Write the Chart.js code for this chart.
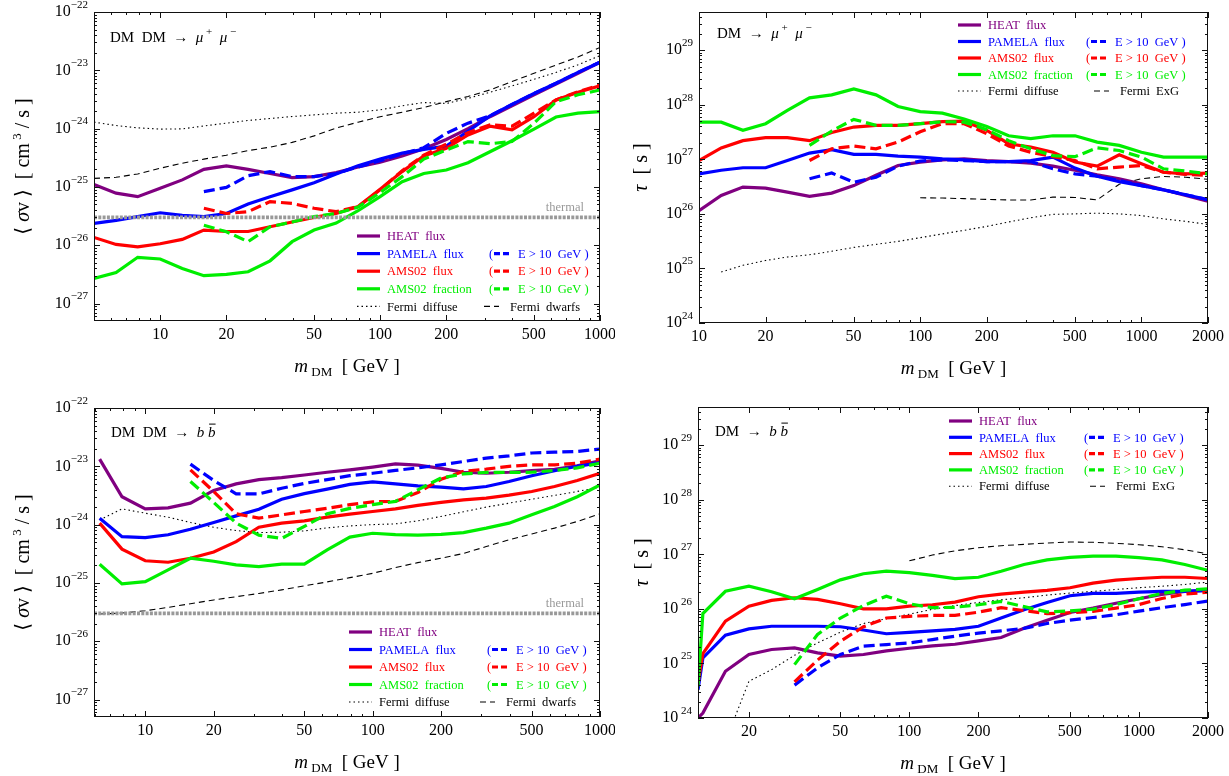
<!DOCTYPE html>
<html>
<head>
<meta charset="utf-8">
<script src="https://cdn.jsdelivr.net/npm/chart.js@4.4.1/dist/chart.umd.min.js"></script>
<style>
  body { margin: 0; background: #fff; }
  #wrap { position: relative; width: 1229px; height: 776px; }
  canvas { position: absolute; }
</style>
</head>
<body>
<div id="wrap">
  <canvas id="c1" width="615" height="390" style="left:0;top:0"></canvas>
  <canvas id="c2" width="614" height="390" style="left:615px;top:0"></canvas>
  <canvas id="c3" width="615" height="386" style="left:0;top:390px"></canvas>
  <canvas id="c4" width="614" height="386" style="left:615px;top:390px"></canvas>
</div>
<script>
// ---- annihilation DM DM -> mu+ mu-  (<sigma v> in cm^3/s)
const massAnnMu = [5, 6.3, 7.9, 10, 12.6, 15.8, 20, 25.1, 31.6, 39.8, 50.1, 63.1, 79.4, 100, 126, 158, 200, 251, 316, 398, 501, 631, 794, 1000];
const heatAnnMu = [1.1e-25, 7.8e-26, 6.8e-26, 9.5e-26, 1.32e-25, 2.0e-25, 2.3e-25, 2.0e-25, 1.7e-25, 1.44e-25, 1.5e-25, 1.76e-25, 2.2e-25, 2.65e-25, 3.4e-25, 4.5e-25, 6.5e-25, 1.0e-24, 1.6e-24, 2.45e-24, 3.8e-24, 5.8e-24, 8.9e-24, 1.38e-23];
const pamAnnMu = [2.37e-26, 2.67e-26, 3.1e-26, 3.6e-26, 3.25e-26, 3.1e-26, 3.5e-26, 5.1e-26, 6.8e-26, 8.9e-26, 1.18e-25, 1.67e-25, 2.3e-25, 3.0e-25, 3.8e-25, 4.4e-25, 5.0e-25, 9.0e-25, 1.65e-24, 2.6e-24, 4.0e-24, 6.0e-24, 9.2e-24, 1.38e-23];
const pamAnnMuE10 = [null, null, null, null, null, 8.3e-26, 9.8e-26, 1.56e-25, 1.83e-25, 1.5e-25, 1.5e-25, 1.7e-25, 2.2e-25, 2.8e-25, 3.7e-25, 4.7e-25, 8.3e-25, 1.24e-24, 1.65e-24, 2.6e-24, 4.0e-24, 6.0e-24, 9.2e-24, 1.38e-23];
const amsAnnMu = [1.36e-26, 1.03e-26, 9.4e-27, 1.06e-26, 1.26e-26, 1.82e-26, 1.72e-26, 1.72e-26, 2.07e-26, 2.5e-26, 3.0e-26, 3.5e-26, 4.6e-26, 9.1e-26, 1.83e-25, 3.4e-25, 4.6e-25, 7.8e-25, 1.1e-24, 9.5e-25, 1.6e-24, 3.1e-24, 4.2e-24, 5.4e-24];
const amsAnnMuE10 = [null, null, null, null, null, 4.3e-26, 3.5e-26, 3.76e-26, 5.6e-26, 5.2e-26, 4.3e-26, 3.76e-26, 4.6e-26, 8.9e-26, 1.9e-25, 3.5e-25, 5.4e-25, 8.5e-25, 1.16e-24, 1.1e-24, 1.84e-24, 3.1e-24, 4.3e-24, 5.6e-24];
const fracAnnMu = [2.7e-27, 3.4e-27, 6.2e-27, 5.8e-27, 4.0e-27, 3.0e-27, 3.15e-27, 3.5e-27, 5.4e-27, 1.15e-26, 1.82e-26, 2.4e-26, 3.9e-26, 6.8e-26, 1.23e-25, 1.7e-25, 1.95e-25, 2.6e-25, 4.0e-25, 6.2e-25, 9.8e-25, 1.58e-24, 1.84e-24, 1.96e-24];
const fracAnnMuE10 = [null, null, null, null, null, 2.2e-26, 1.7e-26, 1.15e-26, 2.07e-26, 2.5e-26, 3.1e-26, 3.5e-26, 4.5e-26, 8.0e-26, 1.5e-25, 3.0e-25, 4.3e-25, 6.0e-25, 5.5e-25, 6.0e-25, 1.24e-24, 2.9e-24, 3.8e-24, 4.6e-24];
const fermiDiffAnnMu = [1.29e-24, 1.13e-24, 1.03e-24, 9.8e-25, 9.9e-25, 1.11e-24, 1.24e-24, 1.38e-24, 1.49e-24, 1.61e-24, 1.72e-24, 1.84e-24, 1.91e-24, 2.1e-24, 2.46e-24, 2.8e-24, 2.7e-24, 3.3e-24, 4.2e-24, 5.4e-24, 7.0e-24, 9.2e-24, 1.24e-23, 1.78e-23];
const fermiDwarfAnnMu = [1.4e-25, 1.46e-25, 1.67e-25, 2.09e-25, 2.55e-25, 3.0e-25, 3.5e-25, 4.2e-25, 4.8e-25, 5.8e-25, 7.5e-25, 1.02e-24, 1.29e-24, 1.6e-24, 1.91e-24, 2.3e-24, 2.9e-24, 3.55e-24, 4.6e-24, 6.4e-24, 8.9e-24, 1.23e-23, 1.69e-23, 2.47e-23];

// ---- decay DM -> mu+ mu-  (tau in s)
const massDecMu = [10, 12.6, 15.8, 20, 25.1, 31.6, 39.8, 50.1, 63.1, 79.4, 100, 126, 158, 200, 251, 316, 398, 501, 631, 794, 1000, 1259, 1585, 1995];
const heatDecMu = [1.15e26, 2.18e26, 3.1e26, 2.96e26, 2.5e26, 2.1e26, 2.4e26, 3.3e26, 5.1e26, 7.7e26, 8.9e26, 9.8e26, 1.02e27, 9.5e26, 9.1e26, 8.5e26, 7.5e26, 6.3e26, 5.2e26, 4.4e26, 3.55e26, 2.76e26, 2.18e26, 1.71e26];
const pamDecMu = [5.4e26, 6.3e26, 7.0e26, 7.0e26, 9.5e26, 1.3e27, 1.5e27, 1.23e27, 1.23e27, 1.14e27, 1.1e27, 1.02e27, 9.8e26, 9.1e26, 9.1e26, 9.5e26, 1.1e27, 6.9e26, 4.9e26, 3.9e26, 3.3e26, 2.76e26, 2.24e26, 1.82e26];
const pamDecMuE10 = [null, null, null, null, null, 4.4e26, 5.6e26, 3.8e26, 4.7e26, 7.5e26, 9.3e26, 9.8e26, 9.5e26, 9.1e26, 9.1e26, 9.1e26, 6.7e26, 5.4e26, 4.9e26, 4.1e26, 3.3e26, 2.76e26, 2.24e26, 1.82e26];
const amsDecMu = [9.5e26, 1.62e27, 2.2e27, 2.5e27, 2.5e27, 2.2e27, 3.1e27, 3.9e27, 4.2e27, 4.2e27, 4.5e27, 4.9e27, 5.0e27, 3.4e27, 1.93e27, 1.67e27, 1.35e27, 8.9e26, 7.5e26, 1.21e27, 8.3e26, 5.8e26, 5.4e26, 5.6e26];
const amsDecMuE10 = [null, null, null, null, null, 9.5e26, 1.56e27, 1.75e27, 1.56e27, 2.07e27, 3.2e27, 4.5e27, 4.5e27, 2.94e27, 1.75e27, 1.35e27, 1.12e27, 9.5e26, 6.7e26, 7.2e26, 7.7e26, 5.8e26, 5.3e26, 5.1e26];
const fracDecMu = [4.8e27, 4.8e27, 3.4e27, 4.5e27, 7.9e27, 1.34e28, 1.52e28, 1.95e28, 1.52e28, 9.3e27, 7.5e27, 7.0e27, 5.5e27, 4.0e27, 2.7e27, 2.4e27, 2.7e27, 2.7e27, 2.07e27, 1.8e27, 1.35e27, 1.1e27, 1.1e27, 1.1e27];
const fracDecMuE10 = [null, null, null, null, null, 1.8e27, 3.3e27, 5.4e27, 4.2e27, 4.2e27, 4.5e27, 4.9e27, 4.8e27, 3.5e27, 2.2e27, 1.56e27, 1.17e27, 1.12e27, 1.62e27, 1.45e27, 1.1e27, 6.7e26, 6.1e26, 5.4e26];
const fermiDiffDecMu = [null, 8.6e24, 1.14e25, 1.4e25, 1.62e25, 1.78e25, 2.06e25, 2.43e25, 2.76e25, 3.13e25, 3.66e25, 4.3e25, 5.0e25, 5.9e25, 7.1e25, 8.5e25, 9.8e25, 1.0e26, 1.03e26, 1.0e26, 9.3e25, 8.1e25, 7.3e25, 6.4e25];
const fermiExgDecMu = [null, null, null, null, null, null, null, null, null, null, 1.97e26, 1.95e26, 1.9e26, 1.84e26, 1.8e26, 1.8e26, 2.03e26, 2.0e26, 1.8e26, 3.5e26, 4.4e26, 4.85e26, 4.7e26, 4.3e26];

// ---- annihilation DM DM -> b bbar
const massAnnB = [6.3, 7.9, 10, 12.6, 15.8, 20, 25.1, 31.6, 39.8, 50.1, 63.1, 79.4, 100, 126, 158, 200, 251, 316, 398, 501, 631, 794, 1000];
const heatAnnB = [1.33e-23, 3.0e-24, 1.86e-24, 1.94e-24, 2.33e-24, 3.85e-24, 5.0e-24, 5.9e-24, 6.4e-24, 7.1e-24, 7.9e-24, 8.7e-24, 9.7e-24, 1.1e-23, 1.05e-23, 9.2e-24, 7.9e-24, 7.6e-24, 7.9e-24, 8.4e-24, 8.9e-24, 1.02e-23, 1.24e-23];
const pamAnnB = [1.29e-24, 6.2e-25, 6.0e-25, 6.7e-25, 8.3e-25, 1.09e-24, 1.41e-24, 1.84e-24, 2.73e-24, 3.4e-24, 4.06e-24, 4.9e-24, 5.4e-24, 5.0e-24, 4.6e-24, 4.4e-24, 4.1e-24, 4.5e-24, 5.5e-24, 6.9e-24, 8.4e-24, 1.0e-23, 1.16e-23];
const pamAnnBE10 = [null, null, null, null, 1.09e-23, 5.7e-24, 3.37e-24, 3.37e-24, 4.2e-24, 5.1e-24, 5.9e-24, 6.9e-24, 7.6e-24, 8.5e-24, 9.4e-24, 1.06e-23, 1.21e-23, 1.38e-23, 1.51e-23, 1.69e-23, 1.75e-23, 1.8e-23, 1.97e-23];
const amsAnnB = [1.06e-24, 3.8e-25, 2.4e-25, 2.26e-25, 2.65e-25, 3.4e-25, 5.1e-25, 9.0e-25, 1.06e-24, 1.16e-24, 1.34e-24, 1.51e-24, 1.68e-24, 1.86e-24, 2.13e-24, 2.4e-24, 2.66e-24, 2.84e-24, 3.2e-24, 3.7e-24, 4.5e-24, 5.7e-24, 7.6e-24];
const amsAnnBE10 = [null, null, null, null, 8.7e-24, 3.7e-24, 1.53e-24, 1.29e-24, 1.47e-24, 1.68e-24, 1.9e-24, 2.2e-24, 2.46e-24, 2.5e-24, 3.55e-24, 6.0e-24, 8.2e-24, 8.95e-24, 1.0e-23, 1.06e-23, 1.06e-23, 1.13e-23, 1.33e-23];
const fracAnnB = [2.09e-25, 9.6e-26, 1.05e-25, 1.67e-25, 2.65e-25, 2.35e-25, 2.04e-25, 1.9e-25, 2.1e-25, 2.1e-25, 3.7e-25, 6.1e-25, 7.1e-25, 6.75e-25, 6.6e-25, 6.8e-25, 7.3e-25, 8.7e-25, 1.06e-24, 1.47e-24, 2.04e-24, 3.0e-24, 4.8e-24];
const fracAnnBE10 = [null, null, null, null, 5.5e-24, 2.4e-24, 1.06e-24, 6.6e-25, 5.8e-25, 9.3e-25, 1.53e-24, 1.9e-24, 2.2e-24, 2.5e-24, 3.95e-24, 6.3e-24, 7.4e-24, 7.85e-24, 7.85e-24, 7.9e-24, 8.5e-24, 9.4e-24, 1.13e-23];
const fermiDiffAnnB = [1.2e-24, 1.86e-24, 1.57e-24, 1.34e-24, 1.09e-24, 9.0e-25, 7.9e-25, 7.3e-25, 7.4e-25, 7.8e-25, 8.8e-25, 9.5e-25, 1.0e-24, 1.03e-24, 1.16e-24, 1.38e-24, 1.66e-24, 2.0e-24, 2.33e-24, 2.73e-24, 3.16e-24, 3.7e-24, 4.4e-24];
const fermiDwarfAnnB = [2.92e-26, 3.04e-26, 3.33e-26, 3.8e-26, 4.4e-26, 5.1e-26, 5.8e-26, 6.6e-26, 7.6e-26, 8.9e-26, 1.04e-25, 1.23e-25, 1.46e-25, 1.83e-25, 2.23e-25, 2.65e-25, 3.2e-25, 4.2e-25, 5.5e-25, 6.9e-25, 8.7e-25, 1.13e-24, 1.53e-24];

// ---- decay DM -> b bbar
const massDecB = [12, 12.6, 15.8, 20, 25.1, 31.6, 39.8, 50.1, 63.1, 79.4, 100, 126, 158, 200, 251, 316, 398, 501, 631, 794, 1000, 1259, 1585, 1995];
const heatDecB = [1.0e24, 1.23e24, 7.2e24, 1.46e25, 1.8e25, 1.93e25, 1.56e25, 1.36e25, 1.46e25, 1.7e25, 1.9e25, 2.1e25, 2.25e25, 2.59e25, 2.98e25, 4.4e25, 6.2e25, 8.6e25, 1.03e26, 1.27e26, 1.53e26, 1.84e26, 2.09e26, 2.18e26];
const pamDecB = [3.3e24, 1.26e25, 3.3e25, 4.3e25, 4.8e25, 4.8e25, 4.8e25, 4.7e25, 4.1e25, 3.5e25, 3.7e25, 3.96e25, 4.2e25, 4.8e25, 6.8e25, 9.6e25, 1.31e26, 1.74e26, 1.92e26, 1.92e26, 2.03e26, 2.09e26, 2.1e26, 2.18e26];
const pamDecBE10 = [null, null, null, null, null, 4.0e24, 8.3e24, 1.46e25, 2.07e25, 2.22e25, 2.38e25, 2.74e25, 3.16e25, 3.6e25, 3.96e25, 4.4e25, 5.4e25, 6.2e25, 6.95e25, 7.8e25, 9.1e25, 1.05e26, 1.2e26, 1.39e26];
const amsDecB = [4.4e24, 1.52e25, 5.96e25, 1.12e26, 1.43e26, 1.6e26, 1.49e26, 1.24e26, 1.0e26, 1.0e26, 1.12e26, 1.19e26, 1.33e26, 1.67e26, 1.86e26, 2.03e26, 2.18e26, 2.44e26, 2.96e26, 3.37e26, 3.6e26, 3.8e26, 3.8e26, 3.6e26];
const amsDecBE10 = [null, null, null, null, null, 4.6e24, 1.15e25, 2.56e25, 4.7e25, 6.8e25, 7.3e25, 7.6e25, 7.6e25, 8.7e25, 1.05e26, 9.3e25, 8.2e25, 8.5e25, 9.0e25, 1.03e26, 1.2e26, 1.55e26, 1.86e26, 2.03e26];
const fracDecB = [3.8e24, 8.2e25, 2.1e26, 2.6e26, 2.06e26, 1.53e26, 2.27e26, 3.4e26, 4.4e26, 4.9e26, 4.6e26, 4.1e26, 3.6e26, 3.8e26, 4.9e26, 6.5e26, 7.9e26, 8.8e26, 9.3e26, 9.3e26, 8.7e26, 7.9e26, 6.5e26, 5.1e26];
const fracDecBE10 = [null, null, null, null, null, 9.5e24, 3.4e25, 6.8e25, 1.15e26, 1.71e26, 1.24e26, 1.05e26, 1.07e26, 1.19e26, 1.37e26, 1.1e26, 8.8e25, 9.2e25, 9.9e25, 1.2e26, 1.53e26, 1.92e26, 2.2e26, 2.34e26];
const fermiDiffDecB = [null, null, 3.7e23, 4.7e24, 7.7e24, 1.41e25, 2.38e25, 3.74e25, 5.4e25, 6.6e25, 8.0e25, 9.8e25, 1.15e26, 1.31e26, 1.47e26, 1.6e26, 1.79e26, 1.95e26, 2.09e26, 2.27e26, 2.44e26, 2.6e26, 2.8e26, 3.1e26];
const fermiExgDecB = [null, null, null, null, null, null, null, null, null, null, 7.6e26, 9.7e26, 1.16e27, 1.32e27, 1.44e27, 1.52e27, 1.61e27, 1.68e27, 1.66e27, 1.59e27, 1.5e27, 1.38e27, 1.21e27, 1.02e27];

const thermalSv = 3e-26;
const xTicksAnn = [10, 20, 50, 100, 200, 500, 1000];
const xTicksDecMu = [10, 20, 50, 100, 200, 500, 1000, 2000];
const xTicksDecB = [20, 50, 100, 200, 500, 1000, 2000];

const SERIF = '"Liberation Serif","DejaVu Serif",serif';
const COL = { heat: '#800080', pam: '#0000ff', ams: '#ff0000', frac: '#00ee00', black: '#000000', thermal: '#999999' };
const STY = {
  solid:   { w: 3.2, dash: [] },
  dashed:  { w: 3.2, dash: [11, 5] },
  dot:     { w: 1.1, dash: [1.5, 3] },
  dash:    { w: 1.1, dash: [6, 4] },
  thermal: { w: 3.6, dash: [3, 1.3] }
};

function fnt(p) { return (p.st || '') + ' ' + (p.s || 15) + 'px ' + SERIF; }

// draws a row of text pieces (sub/superscripts, italics), returns its width
function runs(ctx, parts, x, y, align) {
  let w = 0;
  parts.forEach(p => { ctx.font = fnt(p); w += ctx.measureText(p.t).width; });
  let cx = align === 'center' ? x - w / 2 : align === 'right' ? x - w : x;
  parts.forEach(p => {
    ctx.font = fnt(p);
    const pw = ctx.measureText(p.t).width;
    ctx.fillText(p.t, cx, y + (p.dy || 0));
    if (p.bar) {
      ctx.save();
      ctx.lineWidth = 1; ctx.strokeStyle = ctx.fillStyle;
      ctx.beginPath();
      ctx.moveTo(cx + 1, y - p.s * 0.86); ctx.lineTo(cx + pw, y - p.s * 0.86);
      ctx.stroke();
      ctx.restore();
    }
    cx += pw;
  });
  return w;
}

function line(xs, ys, color, kind) {
  const st = STY[kind];
  return {
    data: xs.map((x, i) => ({ x: x, y: ys[i] })).filter(p => p.y != null),
    borderColor: color, borderWidth: st.w, borderDash: st.dash,
    pointRadius: 0, fill: false, tension: 0
  };
}

const legendRows = [
  { c: COL.heat, t: 'HEAT  flux', e10: false },
  { c: COL.pam, t: 'PAMELA  flux', e10: true },
  { c: COL.ams, t: 'AMS02  flux', e10: true },
  { c: COL.frac, t: 'AMS02  fraction', e10: true }
];

function decor(cfg) {
  return {
    id: 'decor',
    afterDraw(chart) {
      const ctx = chart.ctx, a = chart.chartArea;
      const xs = chart.scales.x, ys = chart.scales.y;
      ctx.save();
      ctx.setLineDash([]);
      ctx.strokeStyle = '#111'; ctx.lineWidth = 1;
      ctx.strokeRect(Math.round(a.left) + 0.5, Math.round(a.top) + 0.5,
        Math.round(a.right - a.left) - 1, Math.round(a.bottom - a.top) - 1);

      // tick marks, inside, on all four sides
      ctx.beginPath();
      const k0 = Math.floor(Math.log10(cfg.yMin)), k1 = Math.ceil(Math.log10(cfg.yMax));
      for (let k = k0; k <= k1; k++) {
        for (let m = 1; m < 10; m++) {
          const v = m * Math.pow(10, k);
          if (v < cfg.yMin * 0.999 || v > cfg.yMax * 1.001) continue;
          const py = Math.round(ys.getPixelForValue(v)) + 0.5, len = m === 1 ? 6 : 3;
          ctx.moveTo(a.left, py); ctx.lineTo(a.left + len, py);
          ctx.moveTo(a.right, py); ctx.lineTo(a.right - len, py);
        }
      }
      const j0 = Math.floor(Math.log10(cfg.xMin)), j1 = Math.ceil(Math.log10(cfg.xMax));
      for (let k = j0; k <= j1; k++) {
        for (let m = 1; m < 10; m++) {
          const v = m * Math.pow(10, k);
          if (v < cfg.xMin * 0.999 || v > cfg.xMax * 1.001) continue;
          const px = Math.round(xs.getPixelForValue(v)) + 0.5;
          const len = cfg.xTicks.includes(Math.round(v)) ? 6 : 3;
          ctx.moveTo(px, a.bottom); ctx.lineTo(px, a.bottom - len);
          ctx.moveTo(px, a.top); ctx.lineTo(px, a.top + len);
        }
      }
      ctx.stroke();

      // tick labels
      ctx.fillStyle = '#000';
      ctx.textBaseline = 'middle';
      for (let k = Math.ceil(Math.log10(cfg.yMin)); k <= Math.floor(Math.log10(cfg.yMax) + 1e-9); k++) {
        const py = ys.getPixelForValue(Math.pow(10, k));
        const ex = k < 0 ? '\u2212' + (-k) : (cfg.expGap ? ' ' : '') + k;
        runs(ctx, [{ t: '10', s: 16 }, { t: ex, s: 11, dy: -7 }], a.left - 6, py, 'right');
      }
      ctx.textAlign = 'center';
      ctx.font = fnt({ s: 16 });
      cfg.xTicks.forEach(v => ctx.fillText(String(v), xs.getPixelForValue(v), a.bottom + 14));
      ctx.textAlign = 'left';

      // axis titles
      ctx.textBaseline = 'alphabetic';
      runs(ctx, [{ t: 'm', s: 19, st: 'italic' }, { t: ' DM', s: 13, dy: 4 }, { t: '  [ GeV ]', s: 19 }],
        (a.left + a.right) / 2, a.bottom + 51, 'center');
      ctx.save();
      ctx.translate(cfg.yTitleX, (a.top + a.bottom) / 2);
      ctx.rotate(-Math.PI / 2);
      const yt = cfg.decay
        ? [{ t: '\u03c4', s: 20, st: 'italic' }, { t: '  [ s ]', s: 20 }]
        : [{ t: '\u27e8 ', s: 20 }, { t: '\u03c3', s: 20, st: 'italic' }, { t: 'v \u27e9', s: 20 },
           { t: '  [ cm', s: 20 }, { t: ' 3', s: 13, dy: -8 }, { t: ' / s ]', s: 20 }];
      runs(ctx, yt, 0, 7, 'center');
      ctx.restore();

      // process label
      const pre = cfg.decay ? 'DM  \u2192  ' : 'DM  DM  \u2192  ';
      const proc = cfg.bb
        ? [{ t: pre, s: 15 }, { t: 'b', s: 15, st: 'italic' }, { t: ' ', s: 15 }, { t: 'b', s: 15, st: 'italic', bar: true }]
        : [{ t: pre, s: 15 }, { t: '\u03bc', s: 15, st: 'italic' }, { t: ' +', s: 11, dy: -7 },
           { t: '  \u03bc', s: 15, st: 'italic' }, { t: ' \u2212', s: 11, dy: -7 }];
      runs(ctx, proc, a.left + cfg.proc[0], a.top + cfg.proc[1], 'left');

      // thermal label
      if (!cfg.decay) {
        ctx.fillStyle = COL.thermal;
        ctx.font = fnt({ s: 12.5 });
        ctx.textAlign = 'right';
        ctx.fillText('thermal', a.right - 16, ys.getPixelForValue(thermalSv) - 6);
        ctx.textAlign = 'left';
      }

      // legend
      const L = cfg.leg, x0 = a.left + L.x;
      ctx.textBaseline = 'middle';
      const sample = (xa, xb, y, color, st) => {
        ctx.strokeStyle = color; ctx.lineWidth = st.w; ctx.setLineDash(st.dash);
        ctx.beginPath(); ctx.moveTo(xa, y); ctx.lineTo(xb, y); ctx.stroke();
        ctx.setLineDash([]);
      };
      legendRows.forEach((r, i) => {
        const y = a.top + L.y + i * L.dy;
        sample(x0, x0 + 23, y, r.c, STY.solid);
        ctx.fillStyle = r.c; ctx.font = fnt({ s: 12.5 });
        ctx.fillText(r.t, x0 + 30, y + 1);
        if (r.e10) {
          ctx.fillText('(', x0 + L.col2, y + 1);
          sample(x0 + L.col2 + 5, x0 + L.col2 + 22, y, r.c, { w: 3.2, dash: [6, 3] });
          ctx.fillText('E > 10  GeV )', x0 + L.col2 + 29, y + 1);
        }
      });
      const yf = a.top + L.y + 4 * L.dy;
      sample(x0, x0 + 23, yf, COL.black, { w: 1.1, dash: [1.5, 3] });
      sample(x0 + L.f2, x0 + L.f2 + 15, yf, COL.black, { w: 1.1, dash: [6, 4] });
      ctx.fillStyle = '#000'; ctx.font = fnt({ s: 12.5 });
      ctx.fillText('Fermi  diffuse', x0 + 30, yf + 1);
      ctx.fillText(cfg.decay ? 'Fermi  ExG' : 'Fermi  dwarfs', x0 + L.f2 + 26, yf + 1);
      ctx.restore();
    }
  };
}

function panel(id, cfg, sets) {
  new Chart(document.getElementById(id), {
    type: 'line',
    data: { datasets: sets },
    options: {
      responsive: false, animation: false, devicePixelRatio: 1,
      layout: { padding: cfg.pad },
      scales: {
        x: { type: 'logarithmic', min: cfg.xMin, max: cfg.xMax, bounds: 'data', display: false },
        y: { type: 'logarithmic', min: cfg.yMin, max: cfg.yMax, bounds: 'data', display: false }
      },
      plugins: { legend: { display: false }, tooltip: { enabled: false } },
      elements: { point: { radius: 0 } }
    },
    plugins: [decor(cfg)]
  });
}

function curves(m, heat, pam, pamE, ams, amsE, frac, fracE, fd, f2) {
  return [
    line(m, fracE, COL.frac, 'dashed'),
    line(m, amsE, COL.ams, 'dashed'),
    line(m, pamE, COL.pam, 'dashed'),
    line(m, frac, COL.frac, 'solid'),
    line(m, ams, COL.ams, 'solid'),
    line(m, pam, COL.pam, 'solid'),
    line(m, heat, COL.heat, 'solid'),
    line(m, fd, COL.black, 'dot'),
    line(m, f2, COL.black, 'dash')
  ];
}

const cfg1 = { xMin: 5, xMax: 1000, yMin: Math.pow(10, -27.3), yMax: 1e-22, xTicks: xTicksAnn,
  pad: { left: 94, right: 15, top: 12, bottom: 69 }, yTitleX: 22, proc: [16, 30],
  leg: { x: 263, y: 224, dy: 17.6, col2: 132, f2: 127 } };
const cfg2 = { xMin: 10, xMax: 2000, yMin: 1e24, yMax: Math.pow(10, 29.7), xTicks: xTicksDecMu, decay: true,
  pad: { left: 84, right: 21, top: 12, bottom: 67 }, yTitleX: 25, proc: [18, 26],
  leg: { x: 259, y: 13, dy: 16.5, col2: 128, f2: 136 } };
const cfg3 = { xMin: 5.95, xMax: 1000, yMin: Math.pow(10, -27.3), yMax: 1e-22, xTicks: xTicksAnn, bb: true,
  pad: { left: 94, right: 15, top: 18, bottom: 59 }, yTitleX: 22, proc: [17, 29],
  leg: { x: 255, y: 224, dy: 17.5, col2: 138, f2: 131 } };
const cfg4 = { xMin: 12, xMax: 2000, yMin: 1e24, yMax: Math.pow(10, 29.7), xTicks: xTicksDecB, decay: true, bb: true, expGap: true,
  pad: { left: 83, right: 21, top: 17, bottom: 58 }, yTitleX: 26, proc: [17, 29],
  leg: { x: 251, y: 14, dy: 16.3, col2: 135, f2: 141 } };

panel('c1', cfg1, [line([cfg1.xMin, cfg1.xMax], [thermalSv, thermalSv], COL.thermal, 'thermal')].concat(
  curves(massAnnMu, heatAnnMu, pamAnnMu, pamAnnMuE10, amsAnnMu, amsAnnMuE10, fracAnnMu, fracAnnMuE10, fermiDiffAnnMu, fermiDwarfAnnMu)));
panel('c2', cfg2,
  curves(massDecMu, heatDecMu, pamDecMu, pamDecMuE10, amsDecMu, amsDecMuE10, fracDecMu, fracDecMuE10, fermiDiffDecMu, fermiExgDecMu));
panel('c3', cfg3, [line([cfg3.xMin, cfg3.xMax], [thermalSv, thermalSv], COL.thermal, 'thermal')].concat(
  curves(massAnnB, heatAnnB, pamAnnB, pamAnnBE10, amsAnnB, amsAnnBE10, fracAnnB, fracAnnBE10, fermiDiffAnnB, fermiDwarfAnnB)));
panel('c4', cfg4,
  curves(massDecB, heatDecB, pamDecB, pamDecBE10, amsDecB, amsDecBE10, fracDecB, fracDecBE10, fermiDiffDecB, fermiExgDecB));
</script>
</body>
</html>
